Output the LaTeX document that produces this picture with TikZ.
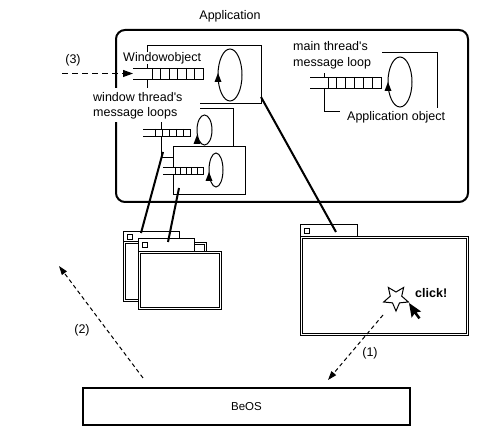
\documentclass[tikz,border=0pt]{standalone}
\usepackage{fontspec}
\setmainfont{Liberation Sans}[Ligatures=TeXOff]
\usetikzlibrary{arrows.meta,calc}
\newcommand{\msgqueue}[6]{% left, first divider, right, top, bottom, cells
  \fill[white] (#1,#4) rectangle (#3,#5);
  \draw[qline] (#1,#4) -- (#3,#4) -- (#3,#5) -- (#1,#5);
  \pgfmathsetmacro{\qstep}{(#3-#2)/#6}
  \foreach \qi in {1,...,#6} {\draw[qline] ({#2+(\qi-1)*\qstep},#4) -- ({#2+(\qi-1)*\qstep},#5);}
}
\newcommand{\looparrow}[5]{% cx, cy, rx, ry, tip y
  \draw[thinline] (#1,#2) ellipse [x radius=#3pt, y radius=#4pt];
  \fill ({#1-#3},#5) -- ({#1-#3-3.5},{#5+9}) -- ({#1-#3+3.5},{#5+9}) -- cycle;
}
\begin{document}
\begin{tikzpicture}[x=1pt,y=-1pt,
  txt/.style={font=\fontsize{12.5}{15.5}\selectfont, inner sep=0pt},
  thinline/.style={line width=1pt},
  qline/.style={line width=0.9pt},
  obox/.style={draw, line width=1pt, fill=white, anchor=north west, inner sep=0pt, outer sep=0pt},
  conn/.style={line width=2pt},
  tabbox/.style={draw, line width=1pt, fill=white, anchor=north west, inner sep=0pt, outer sep=0pt},
  winbody/.style={draw, double, double distance=1pt, line width=1pt, fill=white, anchor=north west, inner sep=0pt, outer sep=0pt},
  closebox/.style={draw, line width=1pt, fill=white, minimum size=5pt, inner sep=0pt},
  dashlong/.style={line width=1pt, dash pattern=on 6pt off 4pt, -{Triangle[length=10pt,width=7pt]}},
  dashshort/.style={line width=1pt, dash pattern=on 4pt off 3pt, -{Triangle[length=9pt,width=6pt]}},
]
\fill[white] (0,0) rectangle (504,446);
\useasboundingbox (0,0) rectangle (504,446);

% Application container
\node[draw, line width=2pt, rounded corners=9pt, minimum width=352pt, minimum height=172pt, inner sep=0pt] (app) at (292,116) {};
\node[txt, anchor=base] (apptitle) at (230,19.5) {Application};

% main window object
\node[obox, minimum width=114pt, minimum height=58pt] (wobj) at (147,46) {};
\fill[white] (120,52) rectangle (210,64);
\node[txt, anchor=base west] (wobjlbl) at (123,62) {Windowobject};
\msgqueue{133}{152}{203}{68}{79}{6}
\looparrow{230}{75}{12}{26}{73}

% second window object
\node[obox, minimum width=72pt, minimum height=49pt] (wobj2) at (161,109) {};
\fill[white] (90,88) rectangle (200,122);
\node[txt, anchor=base west] (wtlbla) at (93,102) {window thread's};
\node[txt, anchor=base west] (wtlblb) at (93,117) {message loops};
\msgqueue{143}{155}{190}{129}{136}{5}
\looparrow{204.5}{130}{7.5}{15}{135}

% third window object
\node[obox, minimum width=72pt, minimum height=48pt] (wobj3) at (173,147) {};
\msgqueue{163}{175}{203}{167}{174}{5}
\looparrow{216}{170}{7}{17}{172}

% application object
\node[obox, minimum width=113pt, minimum height=59pt] (aobj) at (324,53) {};
\fill[white] (290,39) rectangle (382,73);
\node[txt, anchor=base west] (mtla) at (293,51) {main thread's};
\node[txt, anchor=base west] (mtlb) at (293,67) {message loop};
\fill[white] (340,108) rectangle (453,125);
\node[txt, anchor=base west] (aobjlbl) at (347,121) {Application object};
\msgqueue{310}{328}{381}{77}{88}{6}
\looparrow{400}{82}{12}{25}{82}

% stacked windows
\node[winbody, minimum width=76pt, minimum height=55pt] (mwin) at (129,244) {};
\node[tabbox, minimum width=56pt, minimum height=10pt] (btab) at (123,232) {};
\node[closebox] (bclose) at ($(btab.west)+(6.5,0)$) {};
\node[winbody, minimum width=65pt, minimum height=58pt] (bwin) at (124,243) {};
\node[tabbox, minimum width=56pt, minimum height=13pt] (ftab) at (138,239) {};
\node[closebox] (fclose) at ($(ftab.west)+(6.5,0)$) {};
\node[winbody, minimum width=81pt, minimum height=56pt] (fwin) at (139,253) {};

% right window
\node[tabbox, minimum width=57pt, minimum height=12pt] (rtab) at (300,225) {};
\node[closebox] (rclose) at ($(rtab.west)+(6.5,0)$) {};
\node[winbody, minimum width=166pt, minimum height=97pt] (rwin) at (301,238) {};

% star, cursor, click
\draw[thinline, fill=white, shift={(396,298)}] (90:13) -- (126:6) -- (162:13) -- (198:6) -- (234:13) -- (270:6) -- (306:13) -- (342:6) -- (18:13) -- (54:6) -- cycle;
\fill[shift={(409,303)}, rotate=10] (0,0) -- (0,15) -- (3.5,11.5) -- (6.5,17.5) -- (8.8,16.5) -- (5.8,10.5) -- (10.5,10.5) -- cycle;
\node[txt, font=\fontsize{12.5}{15}\selectfont\bfseries, anchor=base west] (click) at (415,297.5) {click!};

% BeOS
\node[draw, line width=2pt, minimum width=327pt, minimum height=37pt, txt, font=\fontsize{11.5}{14}\selectfont] (beos) at (246.5,406.5) {BeOS};

% connectors
\draw[conn] ($(wobj.south east)+(0,-7)$) -- ($(rtab.north west)+(36,7)$);
\draw[conn] ($(wobj2.south west)+(2,-6)$) -- ($(btab.north west)+(18,1)$);
\draw[conn] ($(wobj3.south west)+(6,-7)$) -- ($(ftab.north west)+(30,3)$);

% dashed arrows
\coordinate (c3s) at (62,73.5);
\coordinate (q1w) at (133,73.5);
\draw[dashlong] (c3s) -- (q1w);
\node[txt, anchor=base] (l3) at (73,63.5) {(3)};

\coordinate (c2s) at (143,378);
\coordinate (c2e) at (59,266);
\draw[dashshort] (c2s) -- (c2e);
\node[txt, anchor=base] (l2) at (82,334) {(2)};

\coordinate (c1s) at (383,315);
\coordinate (c1e) at (328,380);
\draw[dashshort] (c1s) -- (c1e);
\node[txt, anchor=base] (l1) at (370,357) {(1)};
\end{tikzpicture}
\end{document}
